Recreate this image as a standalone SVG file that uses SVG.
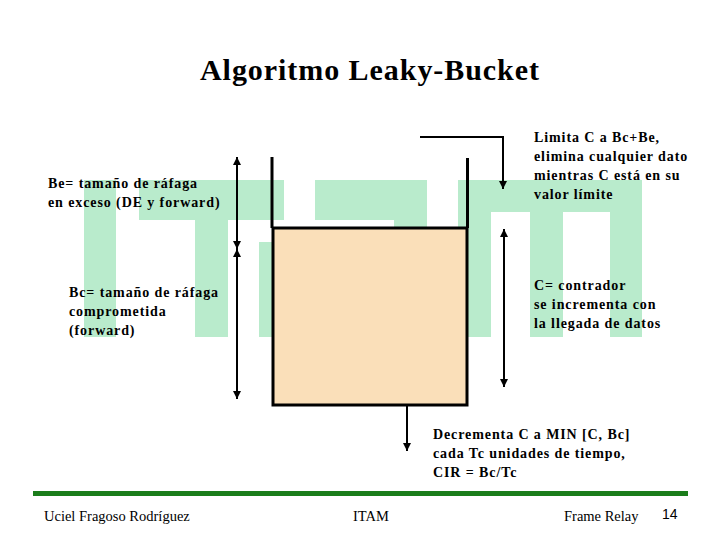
<svg xmlns="http://www.w3.org/2000/svg" width="720" height="540" viewBox="0 0 720 540">
<defs>
<style>
.t{font-family:"Liberation Serif","Times New Roman",serif;font-size:14px;font-weight:bold;letter-spacing:0.9px;fill:#000}
.f{font-family:"Liberation Serif","Times New Roman",serif;font-size:14.5px;fill:#000}
.wm{fill:#b9ebcc}
.ln{stroke:#000;stroke-width:2;fill:none}
</style>
<marker id="ah" viewBox="0 0 10 10" refX="10" refY="5" markerWidth="4" markerHeight="4" orient="auto-start-reverse">
<path d="M0,0 L10,5 L0,10 z" fill="#000"/>
</marker>
</defs>
<rect width="720" height="540" fill="#fff"/>
<g id="watermark">
<rect class="wm" x="84" y="180" width="32" height="157"/>
<rect class="wm" x="139" y="180" width="145" height="40"/>
<rect class="wm" x="195" y="219" width="33" height="118"/>
<rect class="wm" x="259" y="242" width="30" height="95"/>
<rect class="wm" x="315" y="180" width="112" height="40"/>
<rect class="wm" x="394" y="219" width="33" height="20"/>
<rect class="wm" x="458" y="180" width="184" height="32"/>
<rect class="wm" x="458" y="211" width="33" height="126"/>
<rect class="wm" x="530" y="211" width="33" height="126"/>
<rect class="wm" x="610" y="211" width="32" height="126"/>
</g>
<text x="200" y="80" textLength="339" lengthAdjust="spacing" style="font-family:'Liberation Serif','Times New Roman',serif;font-size:30px;font-weight:bold">Algoritmo Leaky-Bucket</text>
<g id="bucket">
<rect x="273" y="228" width="194" height="177" fill="#fadfb9" stroke="#000" stroke-width="3"/>
<line x1="272" y1="157" x2="272" y2="228" stroke="#000" stroke-width="3"/>
<line x1="467.5" y1="158" x2="467.5" y2="228" stroke="#000" stroke-width="3"/>
</g>
<g id="connectors">
<path class="ln" d="M420,137 H503 V189" marker-end="url(#ah)"/>
<line class="ln" x1="237" y1="157" x2="237" y2="249" marker-start="url(#ah)" marker-end="url(#ah)"/>
<line class="ln" x1="237" y1="249" x2="237" y2="399" marker-start="url(#ah)" marker-end="url(#ah)"/>
<line class="ln" x1="504" y1="229" x2="504" y2="387" marker-start="url(#ah)" marker-end="url(#ah)"/>
<line class="ln" x1="407" y1="406" x2="407" y2="451" marker-end="url(#ah)"/>
</g>
<g id="be-label">
<text class="t" x="48" y="188">Be= tamaño de ráfaga</text>
<text class="t" x="48" y="207">en exceso (DE y forward)</text>
</g>
<g id="bc-label">
<text class="t" x="69" y="297">Bc= tamaño de ráfaga</text>
<text class="t" x="69" y="316">comprometida</text>
<text class="t" x="69" y="335">(forward)</text>
</g>
<g id="limit-label">
<text class="t" x="534" y="142">Limita C a Bc+Be,</text>
<text class="t" x="534" y="161">elimina cualquier dato</text>
<text class="t" x="534" y="180">mientras C está en su</text>
<text class="t" x="534" y="199">valor límite</text>
</g>
<g id="c-label">
<text class="t" x="534" y="290">C= contrador</text>
<text class="t" x="534" y="309">se incrementa con</text>
<text class="t" x="534" y="328">la llegada de datos</text>
</g>
<g id="dec-label">
<text class="t" x="433" y="439">Decrementa C a MIN [C, Bc]</text>
<text class="t" x="433" y="458">cada Tc unidades de tiempo,</text>
<text class="t" x="433" y="477">CIR = Bc/Tc</text>
</g>
<g id="footer">
<rect x="33" y="491" width="655" height="5" fill="#1b7d1b"/>
<text class="f" x="44" y="521">Uciel Fragoso Rodríguez</text>
<text class="f" x="353" y="521">ITAM</text>
<text class="f" x="564" y="521">Frame Relay</text>
<text x="662" y="519" style="font-family:'Liberation Sans',Arial,sans-serif;font-size:14px">14</text>
</g>
</svg>
